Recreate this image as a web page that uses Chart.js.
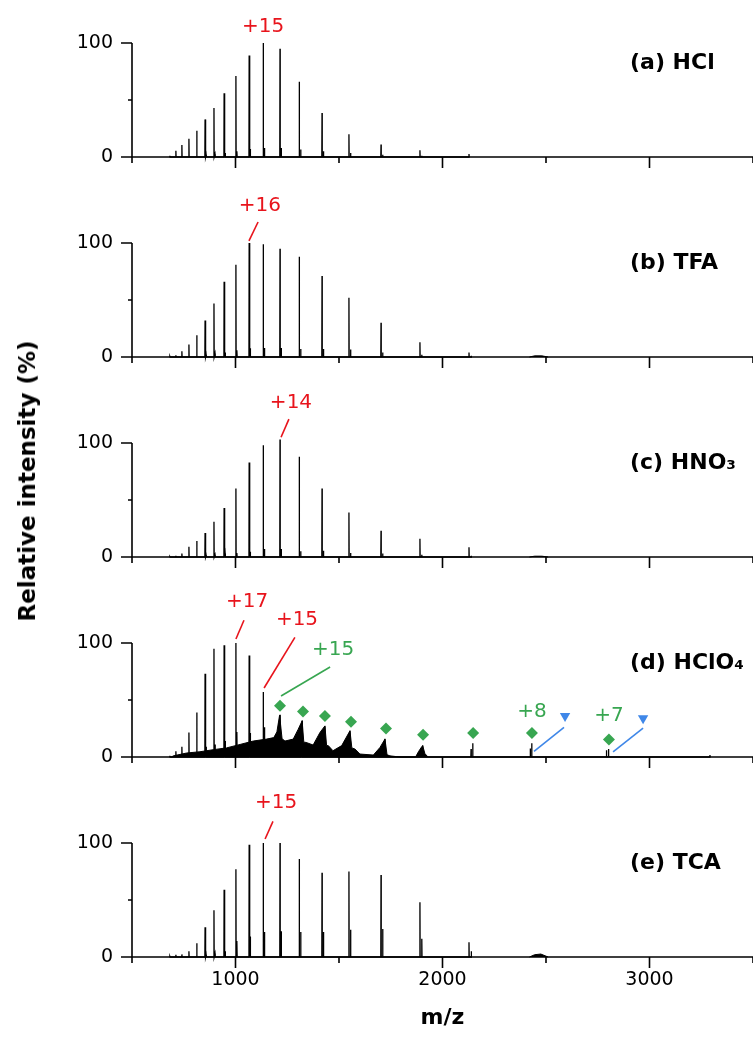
<!DOCTYPE html>
<html>
<head>
<meta charset="utf-8">
<script src="https://cdn.jsdelivr.net/npm/chart.js@4.4.1/dist/chart.umd.min.js"></script>
<style>
  body { margin: 0; background: #fff; }
  #wrap { position: relative; width: 753px; height: 1037px; overflow: hidden; font-family: "DejaVu Sans", sans-serif; }
  canvas { position: absolute; left: 0; }
  #ytitle {
    position: absolute; left: 27px; top: 481px;
    transform: translate(-50%, -50%) rotate(-90deg);
    white-space: nowrap; font-weight: bold; font-size: 23px; color: #000;
  }
</style>
</head>
<body>
<div id="wrap">
  <canvas id="p0" width="753" height="240" style="top:-40px"></canvas>
  <canvas id="p1" width="753" height="240" style="top:160px"></canvas>
  <canvas id="p2" width="753" height="240" style="top:360px"></canvas>
  <canvas id="p3" width="753" height="240" style="top:560px"></canvas>
  <canvas id="p4" width="753" height="277" style="top:760px"></canvas>
  <div id="ytitle">Relative intensity (%)</div>
</div>
<script>
const RED = "#e8141c";
const GREEN = "#38a651";
const BLUE = "#3f87e8";

const xLabels = [1000, 2000, 3000];
const panelTitles = ["(a) HCl", "(b) TFA", "(c) HNO\u2083", "(d) HClO\u2084", "(e) TCA"];

// m/z of the main charge-state peaks (+25 ... +8)
const peakMz = [683, 712, 741, 775, 813, 853, 896, 945, 1002, 1066, 1134, 1215, 1308, 1418, 1548, 1703, 1891, 2128];
// small adduct peak next to each main peak
const adductMz = [688, 717, 746, 780, 818, 858, 901, 950, 1007, 1071, 1140, 1221, 1315, 1425, 1556, 1711, 1900, 2139];

const hclMain = [1, 5.5, 10.5, 16, 23, 33, 43, 56, 71, 89, 100, 95, 66, 38.5, 20, 11, 6, 2.6];
const hclAdduct = [0, 0, 0, 0, 0, 2, 2.5, 3.5, 5, 7, 8, 8, 6.5, 5, 3.5, 2, 1, 0];

const tfaMain = [0.5, 1.5, 5, 11, 19, 32, 47, 66, 81, 100, 99, 95, 88, 71, 52, 30, 13, 4];
const tfaAdduct = [0, 0, 0, 0, 0, 2, 3, 4, 6, 7.6, 8, 8, 7, 7, 6.5, 4, 2, 1];
const tfaHump = [[2420, 0], [2445, 1], [2480, 1], [2510, 0]];

const hno3Main = [0.3, 1, 3, 9, 14, 21, 31, 43, 60, 83, 98, 103, 88, 60, 39, 23, 16, 8.5];
const hno3Adduct = [0, 0, 0, 0, 0, 1.5, 2, 3, 3.5, 4.5, 7, 7, 5, 5.5, 3.5, 3, 2, 1];
const hno3Hump = [[2420, 0], [2445, 0.7], [2480, 0.7], [2510, 0]];

const hclo4Main = [1, 5, 9, 21.5, 39, 73, 95, 98, 100, 89, 57, 0, 0, 0, 0, 0, 0, 0];
const hclo4Adduct = [0, 0, 0, 0, 0, 9, 11, 14, 22, 21, 26, 0, 0, 0, 0, 0, 0, 0];
// dense envelope of unresolved peaks (HClO4)
const hclo4Envelope = [
  [690, 0], [700, 1], [764, 3.5], [828, 4.6], [892, 6.4], [957, 8], [1022, 11], [1086, 14],
  [1150, 15.7], [1185, 17], [1200, 22], [1213, 36.6], [1225, 16], [1239, 14], [1279, 15.7],
  [1302, 24], [1322, 31.7], [1330, 13], [1341, 12.8], [1375, 10.5], [1408, 21.5], [1432, 27.3],
  [1440, 10], [1448, 10], [1471, 5.5], [1513, 10], [1553, 23], [1562, 8], [1577, 7], [1601, 2.6],
  [1666, 1.7], [1698, 8.4], [1722, 15.7], [1732, 2], [1746, 1], [1779, 0.3], [1800, 0],
  [1870, 0], [1885, 5], [1904, 10], [1915, 3], [1930, 0]
];
const hclo4Clusters = [
  [1210, 30], [1215, 37], [1316, 27], [1322, 32], [1426, 22], [1432, 27], [1547, 19], [1553, 23],
  [1716, 12], [1722, 16], [1897, 8], [1904, 10], [2138, 7], [2146, 12], [2424, 7.5], [2431, 12],
  [2792, 6], [2802, 7], [3292, 1.7]
];
const hclo4Diamonds = [[1215, 45], [1326, 40], [1432, 36], [1558, 31], [1727, 25], [1906, 19.5], [2148, 21], [2432, 21], [2804, 15.4]];
const hclo4Triangles = [[2592, 36], [2969, 34]];

const tcaMain = [0.5, 2, 2.3, 5, 12, 26, 41, 59, 77, 98.5, 100, 100, 86, 74, 75, 72, 48, 13];
const tcaAdduct = [0, 0, 0, 0, 0, 2, 3, 5, 14, 18, 22, 22.5, 22, 22, 24, 24.5, 16, 5];
const tcaHump = [[2420, 0], [2445, 2], [2475, 2.6], [2510, 0]];

// charge-state labels and leader lines, in data units (m/z, %)
const notes = [
  { labels: [{ text: "+15", x: 1133, y: 114, color: RED }], lines: [] },
  { labels: [{ text: "+16", x: 1118, y: 132.5, color: RED }],
    lines: [{ x1: 1109, y1: 118.4, x2: 1065, y2: 101.8, color: RED }] },
  { labels: [{ text: "+14", x: 1268, y: 135, color: RED }],
    lines: [{ x1: 1258, y1: 121, x2: 1220, y2: 105, color: RED }] },
  { labels: [
      { text: "+17", x: 1056, y: 136, color: RED },
      { text: "+15", x: 1297, y: 120, color: RED },
      { text: "+15", x: 1471, y: 94, color: GREEN },
      { text: "+8", x: 2432, y: 40, color: GREEN },
      { text: "+7", x: 2804, y: 36, color: GREEN }],
    lines: [
      { x1: 1002, y1: 103.5, x2: 1041, y2: 120, color: RED },
      { x1: 1138, y1: 60.5, x2: 1287, y2: 105, color: RED },
      { x1: 1220, y1: 53.5, x2: 1457, y2: 79, color: GREEN },
      { x1: 2442, y1: 5, x2: 2587, y2: 26, color: BLUE },
      { x1: 2824, y1: 4.4, x2: 2969, y2: 25.4, color: BLUE }] },
  { labels: [{ text: "+15", x: 1196, y: 135, color: RED }],
    lines: [{ x1: 1181, y1: 119, x2: 1143, y2: 103.5, color: RED }] }
];

const toSticks = (mz, h) =>
  mz.flatMap((m, i) => (h[i] > 0 ? [{ x: m - 1, y: 0 }, { x: m, y: h[i] }, { x: m + 1, y: 0 }] : []));
const pairSticks = (pairs) => toSticks(pairs.map((p) => p[0]), pairs.map((p) => p[1]));
const toPoints = (pairs) => pairs.map(([x, y]) => ({ x, y }));
const byX = (a, b) => a.x - b.x;

const stickSet = (data) => ({
  data: data.sort(byX),
  borderColor: "#000",
  borderWidth: 1.3,
  pointRadius: 0,
  tension: 0,
  clip: false,
});
const areaSet = (pairs) => ({
  data: toPoints(pairs),
  borderColor: "#000",
  backgroundColor: "#000",
  borderWidth: 1,
  fill: "origin",
  pointRadius: 0,
  tension: 0,
  clip: false,
});
const markerSet = (pairs, style, color, rotation) => ({
  data: toPoints(pairs),
  showLine: false,
  pointStyle: style,
  pointRadius: 6,
  pointRotation: rotation,
  pointBackgroundColor: color,
  pointBorderColor: color,
  pointBorderWidth: 0,
  clip: false,
});

const panelData = [
  [stickSet([...toSticks(peakMz, hclMain), ...toSticks(adductMz, hclAdduct)])],
  [stickSet([...toSticks(peakMz, tfaMain), ...toSticks(adductMz, tfaAdduct)]), areaSet(tfaHump)],
  [stickSet([...toSticks(peakMz, hno3Main), ...toSticks(adductMz, hno3Adduct)]), areaSet(hno3Hump)],
  [
    areaSet(hclo4Envelope),
    stickSet([...toSticks(peakMz, hclo4Main), ...toSticks(adductMz, hclo4Adduct), ...pairSticks(hclo4Clusters)]),
    markerSet(hclo4Diamonds, "rectRot", GREEN, 0),
    markerSet(hclo4Triangles, "triangle", BLUE, 180),
  ],
  [stickSet([...toSticks(peakMz, tcaMain), ...toSticks(adductMz, tcaAdduct)]), areaSet(tcaHump)],
];

const spectrumAxes = {
  id: "spectrumAxes",
  beforeDatasetsDraw(chart) {
    const { ctx, chartArea: area, scales: { x, y } } = chart;
    const y0 = y.getPixelForValue(0);
    ctx.save();
    ctx.strokeStyle = "#000";
    ctx.lineWidth = 1.6;
    ctx.beginPath();
    ctx.moveTo(area.left, y0);
    ctx.lineTo(area.left, y.getPixelForValue(100));
    y.ticks.forEach((t) => {
      const py = y.getPixelForValue(t.value);
      const len = t.value % 100 === 0 ? 11 : 4;
      ctx.moveTo(area.left - len, py);
      ctx.lineTo(area.left, py);
    });
    ctx.moveTo(area.left, y0);
    ctx.lineTo(area.right, y0);
    x.ticks.forEach((t) => {
      const px = x.getPixelForValue(t.value);
      const len = t.value % 1000 === 0 ? 11 : 6;
      ctx.moveTo(px, y0);
      ctx.lineTo(px, y0 + len);
    });
    ctx.stroke();
    ctx.restore();
  },
  afterDatasetsDraw(chart, args, opts) {
    const { ctx, chartArea: area, scales: { x, y } } = chart;
    ctx.save();
    ctx.lineWidth = 1.6;
    opts.lines.forEach((l) => {
      ctx.strokeStyle = l.color;
      ctx.beginPath();
      ctx.moveTo(x.getPixelForValue(l.x1), y.getPixelForValue(l.y1));
      ctx.lineTo(x.getPixelForValue(l.x2), y.getPixelForValue(l.y2));
      ctx.stroke();
    });
    ctx.font = '20px "DejaVu Sans"';
    ctx.textAlign = "center";
    ctx.textBaseline = "middle";
    opts.labels.forEach((l) => {
      ctx.fillStyle = l.color;
      ctx.fillText(l.text, x.getPixelForValue(l.x), y.getPixelForValue(l.y));
    });
    ctx.fillStyle = "#000";
    ctx.font = 'bold 22px "DejaVu Sans"';
    ctx.textAlign = "left";
    ctx.fillText(opts.title, area.right - 123, area.top + 20);
    ctx.restore();
  },
};

panelData.forEach((datasets, i) => {
  const last = i === panelData.length - 1;
  new Chart(document.getElementById("p" + i), {
    type: "line",
    data: { datasets },
    plugins: [spectrumAxes],
    options: {
      responsive: false,
      animation: false,
      events: [],
      layout: { autoPadding: false, padding: { top: 83, left: 0, right: 0, bottom: 0 } },
      plugins: {
        legend: { display: false },
        tooltip: { enabled: false },
        spectrumAxes: { title: panelTitles[i], labels: notes[i].labels, lines: notes[i].lines },
      },
      scales: {
        x: {
          type: "linear",
          min: 500,
          max: 3500,
          afterFit: (s) => {
            s.height = last ? 80 : 43;
            s.paddingLeft = 0;
            s.paddingRight = 0;
          },
          grid: { display: false, drawTicks: false },
          border: { display: false },
          ticks: {
            display: last,
            stepSize: 500,
            padding: 12,
            color: "#000",
            font: { family: "DejaVu Sans", size: 19 },
            maxRotation: 0,
            callback: (v) => (xLabels.includes(v) ? String(v) : ""),
          },
          title: {
            display: last,
            text: "m/z",
            color: "#000",
            font: { family: "DejaVu Sans", size: 22, weight: "bold" },
            padding: { top: 0, bottom: 6 },
          },
        },
        y: {
          min: 0,
          max: 100,
          afterFit: (s) => { s.width = 132; },
          grid: { display: false, drawTicks: false },
          border: { display: false },
          ticks: {
            stepSize: 50,
            padding: 19,
            color: "#000",
            font: { family: "DejaVu Sans", size: 19 },
            callback: (v) => (v === 50 ? "" : String(v)),
          },
        },
      },
    },
  });
});
</script>
</body>
</html>
